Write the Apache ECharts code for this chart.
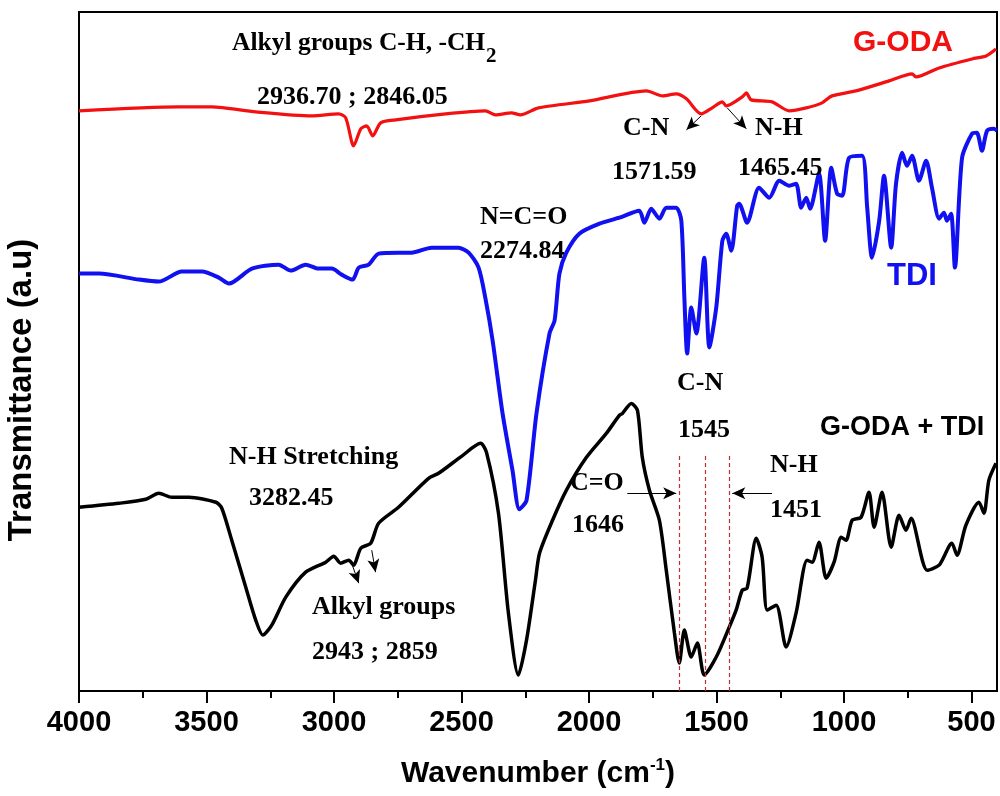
<!DOCTYPE html>
<html>
<head>
<meta charset="utf-8">
<script src="https://cdn.jsdelivr.net/npm/echarts@6/dist/echarts.min.js"></script>
<style>
html,body{margin:0;padding:0;background:#fff;}
#chart{width:1000px;height:796px;}
</style>
</head>
<body>
<div id="chart"></div>
<script>
// ---- data: [wavenumber (cm-1), transmittance (a.u.)] ----
const godaSpectrum = [
  [4000,58.1],[3608,58.5],[3479,58.5],[3307,58.0],[3087,57.6],[2982,57.8],[2954,57.4],[2923,54.6],
  [2895,56.3],[2872,56.6],[2848,55.6],[2817,56.9],[2758,57.2],[2562,57.8],[2406,58.1],[2367,57.7],
  [2304,57.9],[2269,57.7],[2198,58.4],[1998,59.1],[1775,60.1],[1712,59.6],[1658,59.8],[1618,59.3],
  [1560,57.8],[1517,58.4],[1477,59.0],[1462,58.6],[1399,59.5],[1383,59.9],[1364,59.2],[1282,59.0],
  [1215,58.1],[1148,58.4],[1086,58.9],[1047,59.6],[953,60.1],[823,61.1],[733,61.8],[718,61.5],
  [627,62.4],[498,63.3],[443,63.6],[404,64.3]
];
const tdiSpectrum = [
  [4000,41.8],[3922,41.8],[3765,41.2],[3687,41.0],[3597,42.0],[3518,42.0],[3452,41.4],[3412,40.8],
  [3322,42.3],[3217,42.7],[3170,42.1],[3111,42.7],[3060,42.3],[3009,42.3],[2970,41.7],[2927,41.2],
  [2903,42.4],[2864,42.7],[2825,43.8],[2747,43.9],[2696,43.9],[2617,44.4],[2512,44.4],[2472,43.9],
  [2433,42.4],[2406,39.3],[2378,35.1],[2339,27.8],[2300,22.1],[2273,18.2],[2245,19.1],[2206,27.8],
  [2155,35.8],[2135,37.1],[2116,41.8],[2089,43.9],[2038,45.8],[1959,46.8],[1881,47.4],[1803,48.1],
  [1783,46.9],[1756,48.3],[1724,47.3],[1697,48.4],[1658,48.4],[1638,47.1],[1626,39.4],[1615,33.8],
  [1599,38.4],[1579,35.8],[1548,43.4],[1528,34.4],[1501,38.4],[1477,45.1],[1462,45.8],[1442,44.1],
  [1419,48.6],[1411,48.8],[1380,46.9],[1333,50.4],[1293,49.4],[1254,51.1],[1215,50.6],[1188,50.8],
  [1168,48.4],[1148,49.4],[1133,48.3],[1098,51.8],[1074,45.1],[1050,52.4],[1027,49.8],[1007,49.6],
  [980,53.4],[929,53.6],[909,48.4],[890,43.4],[862,47.1],[843,51.6],[815,44.4],[796,50.8],
  [772,53.9],[753,52.6],[733,53.6],[706,51.1],[678,53.1],[655,50.4],[627,47.3],[608,47.9],
  [596,47.1],[580,47.8],[565,42.4],[537,53.4],[498,55.8],[479,55.9],[459,54.1],[439,56.1],
  [412,56.3],[400,56.1]
];
const godaTdiSpectrum = [
  [4000,18.4],[3843,18.8],[3738,19.2],[3687,19.8],[3636,19.4],[3569,19.4],[3463,18.9],[3440,18.3],
  [3401,15.1],[3346,10.4],[3307,7.1],[3279,5.6],[3244,6.6],[3189,9.4],[3111,11.9],[3032,12.9],
  [3001,13.5],[2974,12.8],[2942,13.1],[2923,12.6],[2895,14.3],[2856,14.8],[2825,16.8],[2747,18.4],
  [2629,21.3],[2590,21.8],[2500,23.5],[2425,24.8],[2402,23.9],[2355,17.8],[2316,7.8],[2277,1.6],
  [2245,5.1],[2210,11.1],[2194,13.8],[2143,17.1],[2089,20.1],[2010,23.4],[1932,25.8],[1881,27.6],
  [1869,27.8],[1834,28.8],[1810,28.1],[1791,23.4],[1763,20.1],[1724,17.1],[1697,12.1],[1665,5.8],
  [1646,2.8],[1626,6.1],[1599,3.4],[1575,4.8],[1548,1.6],[1501,3.4],[1450,6.4],[1423,8.1],
  [1399,10.1],[1380,10.3],[1344,15.3],[1321,13.4],[1301,8.1],[1266,8.6],[1227,4.4],[1188,7.8],
  [1145,13.1],[1125,12.9],[1098,14.9],[1070,11.3],[1039,12.9],[1011,15.4],[992,15.1],[968,17.1],
  [933,17.4],[902,19.9],[882,16.4],[851,19.9],[815,14.4],[784,17.6],[757,16.1],[737,17.3],
  [674,12.1],[627,12.6],[577,14.8],[557,13.6],[522,16.6],[471,18.9],[451,17.8],[432,21.1],[404,22.8]
];
const majorTicks = [4000,3500,3000,2500,2000,1500,1000,500];
const minorTicks = [3750,3250,2750,2250,1750,1250,750];
const markedPeaks = [1646,1545,1451];

// ---- chart ----
const chart = echarts.init(document.getElementById('chart'), null, {renderer:'canvas'});
const SERIF = '"Liberation Serif","Times New Roman",serif';
const SANS = '"Liberation Sans",Arial,sans-serif';

function txt(text, x, y, size, color, family){
  return {type:'text', x:x, y:y, z:100,
    style:{text:text, fill:color||'#000', font:'bold '+size+'px '+(family||SERIF),
      textAlign:'left', textVerticalAlign:'middle'}};
}
function arrow(from, to){
  return [{coord:from, symbol:'none'}, {coord:to, symbol:'arrow', symbolSize:[9,13]}];
}
function vline(x){
  return [{coord:[x,0], symbol:'none', lineStyle:{type:[4,3], color:'#c03030', width:1.2}},
          {coord:[x,23.6], symbol:'none'}];
}

const option = {
  animation:false,
  backgroundColor:'#fff',
  grid:{left:79, right:3, top:12, bottom:105, show:true, borderColor:'#000', borderWidth:2, containLabel:false},
  xAxis:[{
    type:'value', min:400, max:4000, inverse:true, position:'bottom',
    axisLine:{show:true, onZero:false, lineStyle:{color:'#000', width:2}},
    axisTick:{show:true, inside:false, length:12, lineStyle:{color:'#000', width:2}, customValues:majorTicks},
    axisLabel:{show:true, customValues:majorTicks, formatter:function(v){return String(v);},
      color:'#000', fontSize:29, fontWeight:'bold', fontFamily:SANS, margin:17},
    splitLine:{show:false},
    name:'{a|Wavenumber (cm}{s|-1}{a|)}',
    nameLocation:'middle', nameGap:66,
    nameTextStyle:{rich:{
      a:{fontSize:30, fontWeight:'bold', fontFamily:SANS, color:'#000', lineHeight:34},
      s:{fontSize:17, fontWeight:'bold', fontFamily:SANS, color:'#000', lineHeight:16, verticalAlign:'top'}
    }}
  },{
    type:'value', min:400, max:4000, inverse:true, position:'bottom',
    axisLine:{show:false, onZero:false},
    axisTick:{show:true, inside:false, length:7, lineStyle:{color:'#000', width:2}, customValues:minorTicks},
    axisLabel:{show:false},
    splitLine:{show:false}
  }],
  yAxis:{
    type:'value', min:0, max:68,
    axisLine:{show:true, lineStyle:{color:'#000', width:2}},
    axisTick:{show:false}, axisLabel:{show:false}, splitLine:{show:false}
  },
  series:[
    {name:'G-ODA', type:'line', data:godaSpectrum, showSymbol:false, smooth:0.25,
     lineStyle:{color:'#f21010', width:3.2}, itemStyle:{color:'#f21010'},
     markLine:{silent:true, label:{show:false}, lineStyle:{color:'#000', width:1, type:'solid'},
       data:[arrow([1560,57.6],[1618,56.2]), arrow([1458,58.4],[1383,56.3])]}},
    {name:'TDI', type:'line', data:tdiSpectrum, showSymbol:false, smooth:0.25,
     lineStyle:{color:'#1010f0', width:4}, itemStyle:{color:'#1010f0'}},
    {name:'G-ODA + TDI', type:'line', data:godaTdiSpectrum, showSymbol:false, smooth:0.25,
     lineStyle:{color:'#000', width:3.5}, itemStyle:{color:'#000'},
     markLine:{silent:true, label:{show:false}, lineStyle:{color:'#000', width:1, type:'solid'},
       data:[
         vline(markedPeaks[0]), vline(markedPeaks[1]), vline(markedPeaks[2]),
         arrow([1850,19.8],[1658,19.8]), arrow([1282,19.8],[1438,19.8]),
         arrow([2931,12.8],[2903,10.8]), arrow([2852,14.1],[2837,11.9])
       ]}}
  ],
  graphic:[
    txt('Alkyl groups C-H, -CH', 232, 43, 25.5),
    txt('2', 486, 57, 21),
    txt('2936.70 ; 2846.05', 257, 97, 26),
    txt('G-ODA', 853, 43, 30, '#f21010', SANS),
    txt('C-N', 623, 128, 26),
    txt('N-H', 755, 128, 26),
    txt('1571.59', 612, 172, 26),
    txt('1465.45', 738, 168, 26),
    txt('N=C=O', 480, 217, 26),
    txt('2274.84', 480, 251, 26),
    txt('TDI', 887, 276, 31, '#1010f0', SANS),
    txt('C-N', 677, 383, 26),
    txt('1545', 678, 430, 26),
    txt('G-ODA + TDI', 820, 428, 27, '#000', SANS),
    txt('N-H', 770, 465, 26),
    txt('1451', 770, 510, 26),
    txt('C=O', 570, 483, 26),
    txt('1646', 572, 525, 26),
    txt('N-H Stretching', 229, 457, 26),
    txt('3282.45', 249, 498, 26),
    txt('Alkyl groups', 312, 607, 26),
    txt('2943 ; 2859', 312, 652, 26),
    {type:'text', x:22, y:390, rotation:Math.PI/2, z:100, style:{
      text:'Transmittance (a.u)', fill:'#000', font:'bold 33px '+SANS,
      textAlign:'center', textVerticalAlign:'middle'}}
  ]
};
chart.setOption(option);
</script>
</body>
</html>
